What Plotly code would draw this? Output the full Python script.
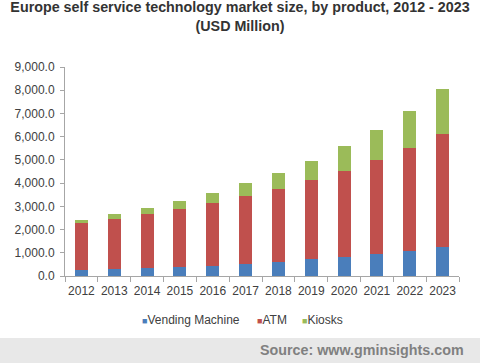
import plotly.graph_objects as go

years = ["2012", "2013", "2014", "2015", "2016", "2017", "2018", "2019", "2020", "2021", "2022", "2023"]
vending = [270, 300, 350, 400, 450, 520, 620, 720, 820, 960, 1090, 1260]
atm = [2000, 2150, 2310, 2490, 2700, 2920, 3135, 3420, 3710, 4040, 4430, 4870]
kiosks = [160, 210, 275, 347, 430, 545, 675, 820, 1050, 1290, 1590, 1910]

series_names = ["Vending Machine", "ATM", "Kiosks"]
series_colors = ["#4A7EBB", "#C0504D", "#9BBB59"]

fig = go.Figure()
for name, vals, col in zip(series_names, [vending, atm, kiosks], series_colors):
    fig.add_trace(go.Bar(x=years, y=vals, name=name, showlegend=False,
                         marker=dict(color=col, line=dict(width=0))))

ml, mr, mt, mb = 65, 21, 67, 87
H = 363
ph = H - mt - mb
pw = 480 - ml - mr

def px_x(x):
    return (x - ml) / pw

def px_y(y):
    return (H - mb - y) / ph

legend_x = [140, 255, 300]
annotations = []
for name, col, lx in zip(series_names, series_colors, legend_x):
    annotations.append(dict(
        text=f"<span style='color:{col};font-size:9px'>■</span>{name}",
        xref="paper", yref="paper", x=px_x(lx), xanchor="left",
        y=px_y(320), yanchor="middle", showarrow=False,
        font=dict(size=12, color="#404040"),
    ))
annotations.append(dict(
    text="<b>Source: www.gminsights.com</b>", xref="paper", yref="paper",
    x=px_x(466), xanchor="right", y=px_y(350), yanchor="middle",
    showarrow=False, font=dict(size=14.3, color="#808080"),
))

fig.update_layout(
    width=480, height=363,
    barmode="stack", bargap=0.6,
    margin=dict(l=ml, r=mr, t=mt, b=mb),
    paper_bgcolor="white", plot_bgcolor="white",
    font=dict(family="Liberation Sans, Arial, sans-serif", size=12, color="#404040"),
    title=dict(
        text="<b>Europe self service technology market size, by product, 2012 - 2023<br>(USD Million)</b>",
        x=0.5, xanchor="center", y=1 - 12 / H, yanchor="top",
        font=dict(size=14.3, color="#333333"),
    ),
    showlegend=False,
    xaxis=dict(
        showline=True, linecolor="#A6A6A6", linewidth=1,
        ticks="outside", tickson="boundaries", ticklen=5, tickcolor="#A6A6A6",
        showgrid=False, tickangle=0, ticklabelstandoff=4,
        tickfont=dict(size=12, color="#404040"),
    ),
    yaxis=dict(
        range=[0, 9000], dtick=1000, tickformat=",.1f",
        showline=True, linecolor="#A6A6A6", linewidth=1,
        ticks="outside", ticklen=4, tickcolor="#A6A6A6", ticklabelstandoff=3,
        showgrid=False, zeroline=False, tickfont=dict(size=12, color="#404040"),
    ),
    shapes=[dict(
        type="rect", xref="paper", yref="paper",
        x0=px_x(0), x1=px_x(480),
        y0=px_y(363) - 0.01, y1=px_y(338),
        fillcolor="#E8E8E8", line=dict(width=0), layer="below",
    )],
    annotations=annotations,
)

fig.write_html("out.html", config={"displayModeBar": False},
               post_script="document.body.style.margin='0';document.body.style.overflow='hidden';")
